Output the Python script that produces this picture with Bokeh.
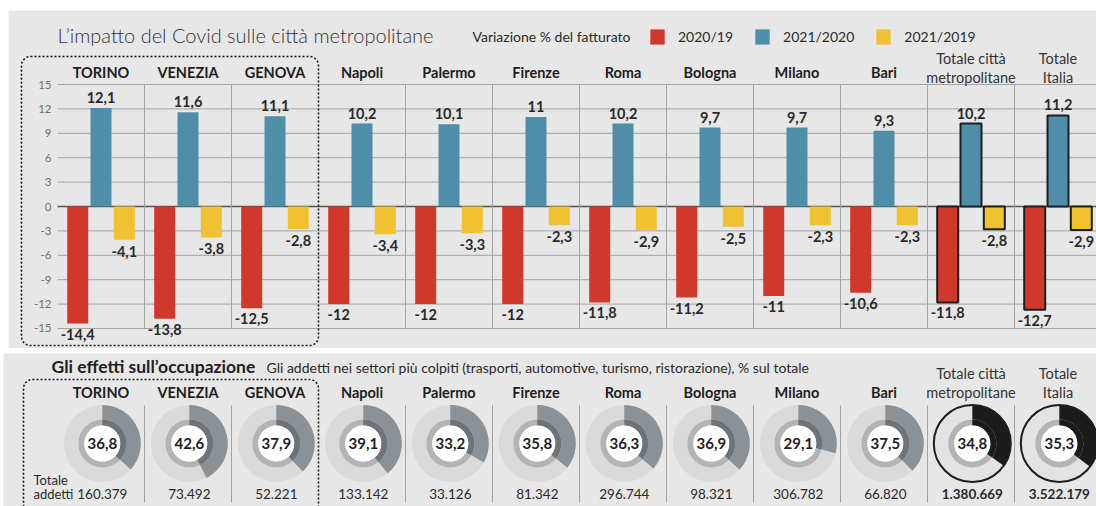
import math
from bokeh.plotting import figure
from bokeh.models import ColumnDataSource, Range1d, BoxAnnotation, Legend, LegendItem
from bokeh.layouts import column
from bokeh.embed import file_html
from bokeh.resources import INLINE
from bokeh.core.properties import value
from bokeh.transform import dodge

# ---------------- data ----------------
headers = ["TORINO", "VENEZIA", "GENOVA", "Napoli", "Palermo", "Firenze", "Roma",
           "Bologna", "Milano", "Bari", "Totale città\nmetropolitane", "Totale\nItalia"]
is_total = [0, 0, 0, 0, 0, 0, 0, 0, 0, 0, 1, 1]
var_2020_19 = [-14.4, -13.8, -12.5, -12, -12, -12, -11.8, -11.2, -11, -10.6, -11.8, -12.7]
var_2021_20 = [12.1, 11.6, 11.1, 10.2, 10.1, 11, 10.2, 9.7, 9.7, 9.3, 10.2, 11.2]
var_2021_19 = [-4.1, -3.8, -2.8, -3.4, -3.3, -2.3, -2.9, -2.5, -2.3, -2.3, -2.8, -2.9]
series_labels = ["2020/19", "2021/2020", "2021/2019"]
y_ticks = [-15, -12, -9, -6, -3, 0, 3, 6, 9, 12, 15]
share_pct = [36.8, 42.6, 37.9, 39.1, 33.2, 35.8, 36.3, 36.9, 29.1, 37.5, 34.8, 35.3]
addetti = ["160.379", "73.492", "52.221", "133.142", "33.126", "81.342", "296.744",
           "98.321", "306.782", "66.820", "1.380.669", "3.522.179"]

title_top = "L\u2019impatto del Covid sulle città metropolitane"
legend_title = "Variazione % del fatturato"
title_bot = "Gli effetti sull\u2019occupazione"
subtitle_bot = "Gli addetti nei settori più colpiti (trasporti, automotive, turismo, ristorazione), % sul totale"
total_caption = ["Totale", "addetti"]

# ---------------- style ----------------
FONT_NAME = "Lato"
FONT = value(FONT_NAME)
FONT_LIGHT = value("Lato Light, Lato")
PANEL = "#e7e7e7"
RED = "#d0382b"
BLUE = "#4f8ea8"
YELLOW = "#f0c232"
INK = "#1e1e1e"
GRID = "#a3a3a3"
DOTS = dict(fill_alpha=0, line_color="#1a1a1a", line_alpha=1.0, line_dash="2 2",
            line_width=1.6, border_radius=9)

W = 1096
H_TOP = 348
GAP = 4
H_BOT = 506 - H_TOP - GAP

COL_PX = 87.0      # width of one city column in px
COL0_PX = 100.5    # page x of first column centre
ZERO_PY = 206.0    # page y of value 0
UNIT_PX = 8.133    # px per percentage point


def X(px):
    return (px - COL0_PX) / COL_PX


def VY(py):
    return (ZERO_PY - py) / UNIT_PX


def BY(py):
    return -py


def fmt(v):
    return f"{v:g}".replace(".", ",")


n = len(headers)
idx = list(range(n))
OFF = 23.3 / COL_PX
BW = 21.0 / COL_PX

src = ColumnDataSource(dict(
    x=idx,
    red=var_2020_19, blue=var_2021_20, yellow=var_2021_19,
    red_l=[fmt(v) for v in var_2020_19],
    blue_l=[fmt(v) for v in var_2021_20],
    yellow_l=[fmt(v) for v in var_2021_19],
    outline=[1.0 if t else 0.0 for t in is_total],
))

# ---------------- top chart ----------------
top = figure(width=W, height=H_TOP, x_range=Range1d(X(0), X(W)),
             y_range=Range1d(VY(H_TOP), VY(0)),
             output_backend="svg", toolbar_location=None, min_border=0,
             x_axis_location=None, y_axis_location=None,
             background_fill_color="white", border_fill_color="white",
             outline_line_color=None)
top.grid.visible = False
top.add_layout(BoxAnnotation(left=X(8), right=X(W + 5), top=VY(10), bottom=VY(H_TOP + 5),
                             fill_color=PANEL, fill_alpha=1, line_color=None,
                             level="underlay"))

# horizontal grid lines
top.segment(x0=X(57), x1=X(1100), y0=y_ticks, y1=y_ticks,
            line_color=["#555555" if t == 0 else GRID for t in y_ticks],
            line_width=[1.4 if t == 0 else 1 for t in y_ticks])
# column dividers
bounds = [i + 0.5 for i in range(n - 1) if i != 2]
top.segment(x0=bounds, x1=bounds, y0=y_ticks[0], y1=y_ticks[-1],
            line_color=GRID, line_width=1)

# y tick labels
top.text(x=X(51), y=y_ticks, text=[str(t) for t in y_ticks], text_align="right",
         text_baseline="middle", text_font=FONT, text_font_size="11.5px",
         text_color="#707070")

r_red = top.vbar(x=dodge("x", -OFF), top="red", bottom=0, width=BW, source=src,
                 fill_color=RED, line_color=INK, line_alpha="outline", line_width=2)
r_blue = top.vbar(x="x", top="blue", bottom=0, width=BW, source=src,
                  fill_color=BLUE, line_color=INK, line_alpha="outline", line_width=2)
r_yel = top.vbar(x=dodge("x", OFF), top="yellow", bottom=0, width=BW, source=src,
                 fill_color=YELLOW, line_color=INK, line_alpha="outline", line_width=2)

lab_kw = dict(text_font=FONT, text_font_size="14.5px", text_font_style="bold",
              text_color="#2a2a2a", text_align="center", source=src)
top.text(x=dodge("x", -OFF), y="red", text="red_l", text_baseline="top", y_offset=5, **lab_kw)
top.text(x="x", y="blue", text="blue_l", text_baseline="bottom", y_offset=-5, **lab_kw)
top.text(x=dodge("x", OFF), y="yellow", text="yellow_l", text_baseline="top", y_offset=6, **lab_kw)

# column headers
city_x = [i for i in idx if not is_total[i]]
tot_x = [i for i in idx if is_total[i]]
top.text(x=city_x, y=VY(72), text=[headers[i] for i in city_x], text_align="center",
         text_baseline="middle", text_font=FONT, text_font_size="14.5px",
         text_font_style="bold", text_color=INK)
top.text(x=tot_x, y=VY(58), text=[headers[i].split("\n")[0] for i in tot_x],
         text_align="center", text_baseline="middle", text_font=FONT,
         text_font_size="14.5px", text_color="#333333")
top.text(x=tot_x, y=VY(77), text=[headers[i].split("\n")[1] for i in tot_x],
         text_align="center", text_baseline="middle", text_font=FONT,
         text_font_size="14.5px", text_color="#333333")

# title and legend caption
top.text(x=[X(57)], y=[VY(34)], text=[title_top], text_align="left",
         text_baseline="middle", text_font=FONT_LIGHT, text_font_size="20px",
         text_color="#333333")
top.text(x=[X(472)], y=[VY(36)], text=[legend_title], text_align="left",
         text_baseline="middle", text_font=FONT, text_font_size="14px",
         text_color="#2a2a2a")

legend = Legend(items=[LegendItem(label=series_labels[0], renderers=[r_red]),
                       LegendItem(label=series_labels[1], renderers=[r_blue]),
                       LegendItem(label=series_labels[2], renderers=[r_yel])],
                orientation="horizontal",
                location=(648, H_TOP - 46), glyph_width=18, glyph_height=19,
                label_standoff=12, spacing=20, padding=0, margin=0,
                border_line_color=None, background_fill_alpha=0,
                label_text_font=FONT_NAME, label_text_font_size="14px",
                label_text_color="#2a2a2a")
top.add_layout(legend)

top.add_layout(BoxAnnotation(left=X(21), right=X(318), top=VY(56), bottom=VY(345), **DOTS))

# ---------------- bottom chart ----------------
y0b = H_TOP + GAP
bot = figure(width=W, height=H_BOT, x_range=Range1d(X(0), X(W)),
             y_range=Range1d(BY(y0b + H_BOT), BY(y0b)),
             output_backend="svg", toolbar_location=None, min_border=0,
             x_axis_location=None, y_axis_location=None,
             background_fill_color="white", border_fill_color="white",
             outline_line_color=None)
bot.grid.visible = False
bot.add_layout(BoxAnnotation(left=X(3), right=X(W + 5), top=BY(y0b + 1), bottom=BY(520),
                             fill_color=PANEL, fill_alpha=1, line_color=None,
                             level="underlay"))

bot.text(x=[X(51)], y=[BY(366)], text=[title_bot], text_align="left",
         text_baseline="middle", text_font=FONT, text_font_size="17.5px",
         text_font_style="bold", text_color=INK)
bot.text(x=[X(266)], y=[BY(367)], text=[subtitle_bot], text_align="left",
         text_baseline="middle", text_font=FONT, text_font_size="14px",
         text_color="#2a2a2a")

bot.text(x=city_x, y=BY(392), text=[headers[i] for i in city_x], text_align="center",
         text_baseline="middle", text_font=FONT, text_font_size="14.5px",
         text_font_style="bold", text_color=INK)
bot.text(x=tot_x, y=BY(373), text=[headers[i].split("\n")[0] for i in tot_x],
         text_align="center", text_baseline="middle", text_font=FONT,
         text_font_size="14.5px", text_color="#333333")
bot.text(x=tot_x, y=BY(392), text=[headers[i].split("\n")[1] for i in tot_x],
         text_align="center", text_baseline="middle", text_font=FONT,
         text_font_size="14.5px", text_color="#333333")

bot.segment(x0=bounds, x1=bounds, y0=BY(405), y1=BY(502), line_color=GRID, line_width=1)

DY = BY(443)
dsrc = ColumnDataSource(dict(
    x=[i + 0.015 for i in idx],
    end=[math.pi / 2 - 2 * math.pi * s / 100 for s in share_pct],
    wedge_out=["#1b1b1b" if t else "#8a9197" for t in is_total],
    wedge_in=["#1b1b1b" if t else "#6c7379" for t in is_total],
    ring_out=["#e3e3e3" if t else "#dadada" for t in is_total],
    lab=[fmt(s) for s in share_pct],
    num=addetti,
    num_style=["bold" if t else "normal" for t in is_total],
))
R_IN, R_MID, R_OUT = 18, 24, 38.5
bot.annulus(x="x", y=DY, inner_radius=R_MID, outer_radius=R_OUT,
            inner_radius_units="screen", outer_radius_units="screen",
            fill_color="ring_out", line_color=None, source=dsrc)
bot.annulus(x="x", y=DY, inner_radius=R_IN, outer_radius=R_MID,
            inner_radius_units="screen", outer_radius_units="screen",
            fill_color="#b4b4b4", line_color=None, source=dsrc)
bot.annular_wedge(x="x", y=DY, inner_radius=R_MID, outer_radius=R_OUT,
                  inner_radius_units="screen", outer_radius_units="screen",
                  start_angle=math.pi / 2, end_angle="end", direction="clock",
                  fill_color="wedge_out", line_color=None, source=dsrc)
bot.annular_wedge(x="x", y=DY, inner_radius=R_IN, outer_radius=R_MID,
                  inner_radius_units="screen", outer_radius_units="screen",
                  start_angle=math.pi / 2, end_angle="end", direction="clock",
                  fill_color="wedge_in", line_color=None, source=dsrc)
bot.circle(x="x", y=DY, radius=R_IN, radius_units="screen", fill_color="white",
           line_color=None, source=dsrc)
bot.circle(x=[i + 0.015 for i in tot_x], y=DY, radius=R_OUT, radius_units="screen",
           fill_color=None, line_color=INK, line_width=2)
bot.text(x="x", y=DY, text="lab", text_align="center", text_baseline="middle",
         text_font=FONT, text_font_size="15px", text_font_style="bold",
         text_color=INK, source=dsrc)
bot.text(x="x", y=BY(493), text="num", text_align="center", text_baseline="middle",
         text_font=FONT, text_font_size="13.5px", text_font_style="num_style",
         text_color="#2a2a2a", source=dsrc)
bot.text(x=[X(33), X(33)], y=[BY(479), BY(493)], text=total_caption,
         text_align="left", text_baseline="middle", text_font=FONT,
         text_font_size="13px", text_color="#2a2a2a")

bot.add_layout(BoxAnnotation(left=X(23), right=X(318), top=BY(379), bottom=BY(530), **DOTS))

layout = column(top, bot, spacing=GAP)
open("out.html", "w").write(file_html(layout, INLINE))
